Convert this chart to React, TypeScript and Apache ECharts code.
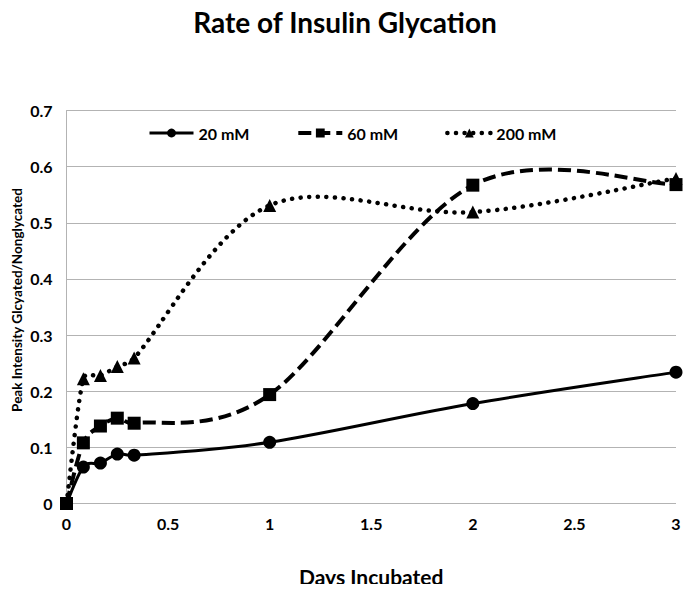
import React, { useEffect, useRef } from "react";
import * as echarts from "echarts";

const days = [0, 0.083, 0.167, 0.25, 0.333, 1, 2, 3];
const mM20 = [0, 0.065, 0.072, 0.088, 0.086, 0.109, 0.178, 0.234];
const mM60 = [0, 0.108, 0.138, 0.152, 0.143, 0.194, 0.567, 0.568];
const mM200 = [0, 0.222, 0.228, 0.244, 0.259, 0.531, 0.519, 0.579];
const seriesNames = ["20 mM", "60 mM", "200 mM"];
const xTicks = [0, 0.5, 1, 1.5, 2, 2.5, 3];

const FONT = "Lato, 'Open Sans', sans-serif";

const styles = [
  { symbol: "circle", width: 3, dash: null as number[] | null, cap: "butt", z: 2 },
  { symbol: "rect", width: 4, dash: [13, 6], cap: "butt", z: 4 },
  { symbol: "triangle", width: 4.5, dash: [0.1, 8.5], cap: "round", z: 3 },
];

function pairs(ys: number[]) {
  return days.map((d, i) => [d, ys[i]]);
}

function smoothPath(pts: number[][]): string {
  const n = pts.length;
  let d = `M${pts[0][0]},${pts[0][1]}`;
  const clampVec = (v: number[], max: number) => {
    const l = Math.hypot(v[0], v[1]);
    if (l > max && l > 0) return [(v[0] * max) / l, (v[1] * max) / l];
    return v;
  };
  for (let i = 0; i < n - 1; i++) {
    const p0 = pts[Math.max(i - 1, 0)];
    const p1 = pts[i];
    const p2 = pts[i + 1];
    const p3 = pts[Math.min(i + 2, n - 1)];
    const seg = Math.hypot(p2[0] - p1[0], p2[1] - p1[1]);
    const t1 = clampVec([(p2[0] - p0[0]) / 6, (p2[1] - p0[1]) / 6], seg * 0.5);
    const t2 = clampVec([(p3[0] - p1[0]) / 6, (p3[1] - p1[1]) / 6], seg * 0.5);
    const c1 = [p1[0] + t1[0], p1[1] + t1[1]];
    const c2 = [p2[0] - t2[0], p2[1] - t2[1]];
    d += ` C${c1[0]},${c1[1]} ${c2[0]},${c2[1]} ${p2[0]},${p2[1]}`;
  }
  return d;
}

export default function App() {
  const ref = useRef<HTMLDivElement>(null);
  useEffect(() => {
    if (!ref.current) return;
    const chart = echarts.init(ref.current, undefined, { renderer: "svg" });
    const all = [mM20, mM60, mM200];

    const curveSeries = all.map((ys, k) => ({
      name: seriesNames[k] + " curve",
      type: "custom",
      data: pairs(ys),
      encode: { x: 0, y: 1 },
      z: 1,
      silent: true,
      renderItem: (params: any, api: any) => {
        if (params.dataIndex !== 0) return null;
        const pts = days.map((dx, i) => api.coord([dx, ys[i]]));
        const st = styles[k];
        return {
          type: "path",
          shape: { pathData: smoothPath(pts) },
          style: {
            fill: "none",
            stroke: "#000",
            lineWidth: st.width,
            lineDash: st.dash || undefined,
            lineCap: st.cap,
          },
        };
      },
    }));

    const markerSeries = all.map((ys, k) => ({
      name: seriesNames[k],
      type: "line",
      data: pairs(ys),
      smooth: false,
      symbol: styles[k].symbol,
      symbolSize: 13,
      z: styles[k].z,
      lineStyle: { color: "#000", width: 0, opacity: 0 },
      itemStyle: { color: "#000" },
    }));

    chart.setOption({
      animation: false,
      backgroundColor: "#fff",
      title: {
        text: "Rate of Insulin Glycation",
        left: 340,
        textAlign: "center",
        top: 3,
        textStyle: { fontFamily: FONT, fontWeight: "bold", fontSize: 28, color: "#000" },
      },
      legend: {
        top: 120,
        left: 143,
        itemWidth: 44,
        itemHeight: 11,
        itemGap: 47,
        data: seriesNames.map((name, k) => ({
          name,
          lineStyle: {
            color: "#000",
            width: styles[k].width,
            opacity: 1,
            type: styles[k].dash ? styles[k].dash : "solid",
            cap: styles[k].cap,
          },
        })),
        textStyle: { fontFamily: FONT, fontWeight: "bold", fontSize: 16, color: "#000" },
      },
      grid: { left: 66.5, right: 18, top: 110.5, bottom: 88.5, containLabel: false },
      graphic: [
        {
          type: "text",
          x: 17,
          y: 300,
          rotation: Math.PI / 2,
          style: {
            text: "Peak Intensity Glcyated/Nonglycated",
            fontFamily: FONT,
            fontWeight: "bold",
            fontSize: 13.5,
            fill: "#000",
            textAlign: "center",
            textVerticalAlign: "middle",
          },
        },
      ],
      xAxis: {
        type: "value",
        min: 0,
        max: 3,
        interval: 0.5,
        name: "Days Incubated",
        nameLocation: "middle",
        nameGap: 62,
        nameTextStyle: { fontFamily: FONT, fontWeight: "bold", fontSize: 21, color: "#000" },
        axisLine: { show: false },
        axisTick: { show: false },
        splitLine: { show: false },
        axisLabel: {
          margin: 12,
          fontFamily: FONT,
          fontWeight: "bold",
          fontSize: 16,
          color: "#000",
          formatter: (v: number) => (xTicks.includes(v) ? String(v) : ""),
        },
      },
      yAxis: {
        type: "value",
        min: 0,
        max: 0.7,
        interval: 0.1,
        axisLine: { show: true, lineStyle: { color: "#b3b3b3", width: 1 } },
        axisTick: { show: false },
        splitLine: { show: true, lineStyle: { color: "#b3b3b3", width: 1 } },
        axisLabel: {
          margin: 14,
          fontFamily: FONT,
          fontWeight: "bold",
          fontSize: 16,
          color: "#000",
          formatter: (v: number) => String(Math.round(v * 10) / 10),
        },
      },
      series: [...markerSeries, ...curveSeries],
    });
    return () => chart.dispose();
  }, []);
  return <div ref={ref} style={{ width: 694, height: 592, margin: -8 }} />;
}
